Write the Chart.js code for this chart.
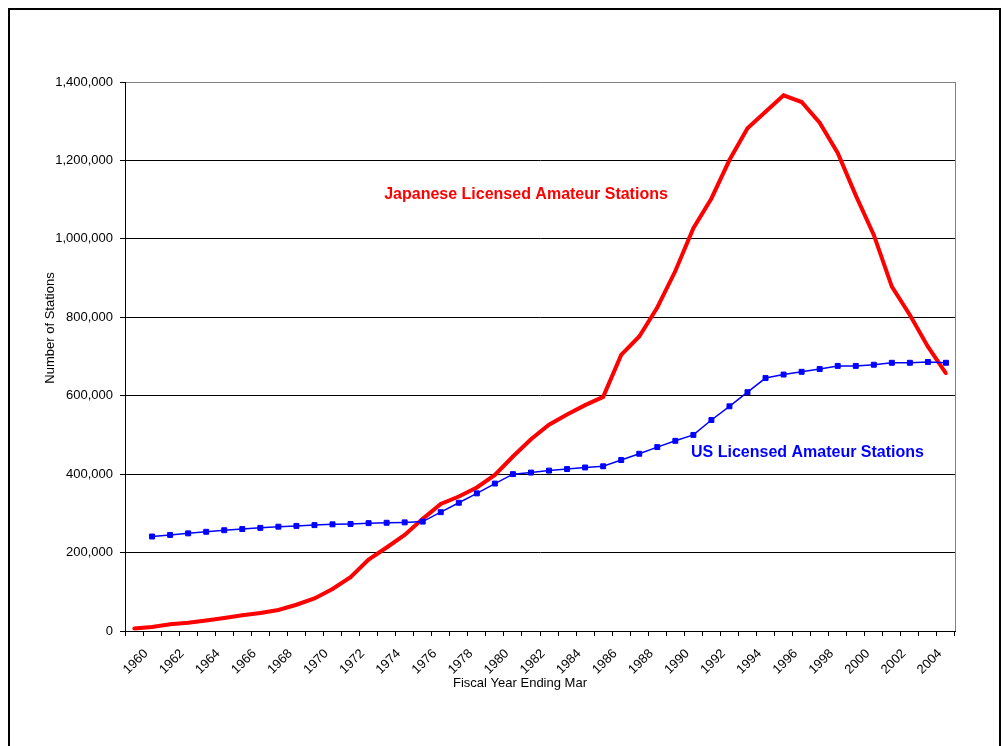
<!DOCTYPE html>
<html>
<head>
<meta charset="utf-8">
<script src="https://cdn.jsdelivr.net/npm/chart.js@4.4.1/dist/chart.umd.min.js"></script>
<style>
  html, body { margin: 0; padding: 0; background: #fff; }
  #wrap { position: relative; width: 1003px; height: 746px; overflow: hidden; }
  #frame { position: absolute; left: 8px; top: 8px; width: 993px; height: 760px;
           border: 2px solid #000; box-sizing: border-box; pointer-events: none; }
  canvas { position: absolute; left: 0; top: 0; }
</style>
</head>
<body>
<div id="wrap">
  <canvas id="c" width="1003" height="746"></canvas>
  <div id="frame"></div>
</div>
<script>
// Fiscal years (ending March)
const years = ['1960','1961','1962','1963','1964','1965','1966','1967','1968','1969',
               '1970','1971','1972','1973','1974','1975','1976','1977','1978','1979',
               '1980','1981','1982','1983','1984','1985','1986','1987','1988','1989',
               '1990','1991','1992','1993','1994','1995','1996','1997','1998','1999',
               '2000','2001','2002','2003','2004','2005'];

// Japanese licensed amateur stations
const japanStations = [6600, 10000, 17000, 21000, 27000, 33000, 40000, 46000, 53500, 67000,
                       83000, 107000, 137000, 182000, 213000, 245000, 286000, 324000, 343000, 366000,
                       398000, 445000, 489000, 526000, 552000, 576000, 597000, 704000, 751000, 825000,
                       918000, 1027000, 1103000, 1201000, 1282000, 1324000, 1366000, 1349000, 1296000, 1219000,
                       1111000, 1010000, 878000, 806000, 725000, 657000];

// US licensed amateur stations
const usStations = [null, 241000, 245000, 249000, 253000, 257000, 260000, 263000, 266000, 268000,
                    270000, 272000, 273000, 275000, 276000, 277000, 279000, 303000, 327000, 351000,
                    376000, 400000, 404000, 409000, 413000, 417000, 420000, 436000, 452000, 469000,
                    485000, 500000, 538000, 573000, 609000, 645000, 654000, 661000, 668000, 676000,
                    676000, 679000, 684000, 684000, 686000, 684000];

// Value axis ticks
const yTicks = [0, 200000, 400000, 600000, 800000, 1000000, 1200000, 1400000];

// Text drawn on the chart
const seriesLabels = [
  { text: 'Japanese Licensed Amateur Stations', color: '#ff0000', x: 526, y: 195 },
  { text: 'US Licensed Amateur Stations', color: '#0000ff', x: 807.5, y: 453 }
];
const yTitle = 'Number of Stations';
const xTitle = 'Fiscal Year Ending Mar';

const FONT = '"Liberation Sans", Arial, sans-serif';

const annotations = {
  id: 'annotations',
  afterDraw(chart) {
    const { ctx, chartArea } = chart;
    ctx.save();
    // right edge of the plot area
    ctx.strokeStyle = '#808080';
    ctx.lineWidth = 1;
    ctx.beginPath();
    ctx.moveTo(Math.round(chartArea.right) + 0.5, chartArea.top);
    ctx.lineTo(Math.round(chartArea.right) + 0.5, chartArea.bottom);
    ctx.stroke();

    // series labels
    ctx.font = 'bold 16px ' + FONT;
    ctx.textAlign = 'center';
    ctx.textBaseline = 'middle';
    seriesLabels.forEach(l => {
      ctx.fillStyle = l.color;
      ctx.fillText(l.text, l.x, l.y);
    });

    // axis titles
    ctx.fillStyle = '#000';
    ctx.font = '13px ' + FONT;
    ctx.fillText(xTitle, 520, 683);
    ctx.translate(50, 328);
    ctx.rotate(-Math.PI / 2);
    ctx.fillText(yTitle, 0, 0);
    ctx.restore();
  }
};

new Chart(document.getElementById('c'), {
  type: 'line',
  data: {
    labels: years,
    datasets: [
      {
        label: 'US Licensed Amateur Stations',
        data: usStations,
        borderColor: '#0000ff',
        backgroundColor: '#0000ff',
        borderWidth: 1.5,
        pointStyle: 'rect',
        pointRadius: 3.5,
        pointBorderWidth: 1,
        tension: 0,
        spanGaps: false,
        order: 0
      },
      {
        label: 'Japanese Licensed Amateur Stations',
        data: japanStations,
        borderColor: '#ff0000',
        backgroundColor: '#ff0000',
        borderWidth: 4,
        pointStyle: 'rect',
        pointRadius: 1.5,
        pointBorderWidth: 1,
        tension: 0,
        order: 1
      }
    ]
  },
  options: {
    responsive: false,
    animation: false,
    devicePixelRatio: 1,
    layout: { padding: { left: 0, top: 82, right: 48, bottom: 0 } },
    plugins: {
      legend: { display: false },
      tooltip: { enabled: false },
      title: { display: false }
    },
    scales: {
      x: {
        type: 'category',
        offset: true,
        grid: {
          offset: true,
          drawOnChartArea: false,
          drawTicks: true,
          tickLength: 5,
          color: '#000'
        },
        border: { display: true, color: '#000', width: 1 },
        ticks: {
          autoSkip: false,
          minRotation: 45,
          maxRotation: 45,
          padding: 10,
          labelOffset: 12,
          color: '#000',
          font: { family: FONT, size: 13 },
          callback: function (value, index) {
            return index % 2 === 0 ? years[index] : '';
          }
        },
        afterFit(scale) { scale.height = 115; }
      },
      y: {
        min: 0,
        max: 1400000,
        afterBuildTicks(scale) { scale.ticks = yTicks.map(v => ({ value: v })); },
        grid: {
          color: ctx => (ctx.tick && ctx.tick.value === 1400000 ? '#808080' : '#000'),
          tickColor: '#000',
          tickLength: 5,
          lineWidth: 1
        },
        border: { display: true, color: '#000', width: 1 },
        ticks: {
          padding: 7,
          color: '#000',
          font: { family: FONT, size: 13 },
          callback: v => v.toLocaleString('en-US')
        },
        afterFit(scale) { scale.width = 125; }
      }
    }
  },
  plugins: [annotations]
});
</script>
</body>
</html>
